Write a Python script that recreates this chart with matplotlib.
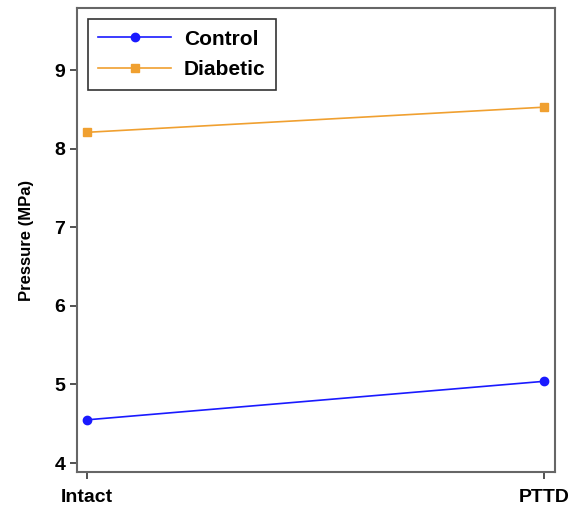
import matplotlib
matplotlib.use("Agg")
import matplotlib.pyplot as plt

plt.rcParams['font.family'] = ['Liberation Sans', 'DejaVu Sans']

categories = ["Intact", "PTTD"]
control = [4.55, 5.04]
diabetic = [8.21, 8.53]

fig = plt.figure(figsize=(5.75, 5.12), dpi=100)
ax = fig.add_axes([0.134, 0.078, 0.831, 0.906])

x = range(len(categories))
ax.plot(x, control, color="#1a1aff", marker="o", ms=6, lw=1.2, label="Control")
ax.plot(x, diabetic, color="#f0a030", marker="s", ms=6, lw=1.2, label="Diabetic")

ax.set_xlim(-0.022, 1.024)
ax.set_ylim(3.885, 9.79)
ax.set_xticks(list(x))
ax.set_xticklabels(categories)
ax.set_yticks([4, 5, 6, 7, 8, 9])
ax.set_ylabel("Pressure (MPa)", fontsize=12, fontweight="bold", labelpad=15)

for lab in ax.get_xticklabels() + ax.get_yticklabels():
    lab.set_fontweight("bold")
    lab.set_fontsize(14)
ax.tick_params(colors="#333333", labelcolor="black", length=5, width=1.2)
ax.tick_params(axis="x", pad=7)
for s in ax.spines.values():
    s.set_color("#666666")
    s.set_linewidth(1.5)

leg = ax.legend(loc="upper left", bbox_to_anchor=(0.023, 0.976), fancybox=False,
                edgecolor="#333333", framealpha=1, prop={"weight": "bold", "size": 15},
                handlelength=3.5, handletextpad=0.6, borderpad=0.5, labelspacing=0.55,
                borderaxespad=0)
leg.get_frame().set_linewidth(1.2)

fig.savefig("out.png", dpi=100)
